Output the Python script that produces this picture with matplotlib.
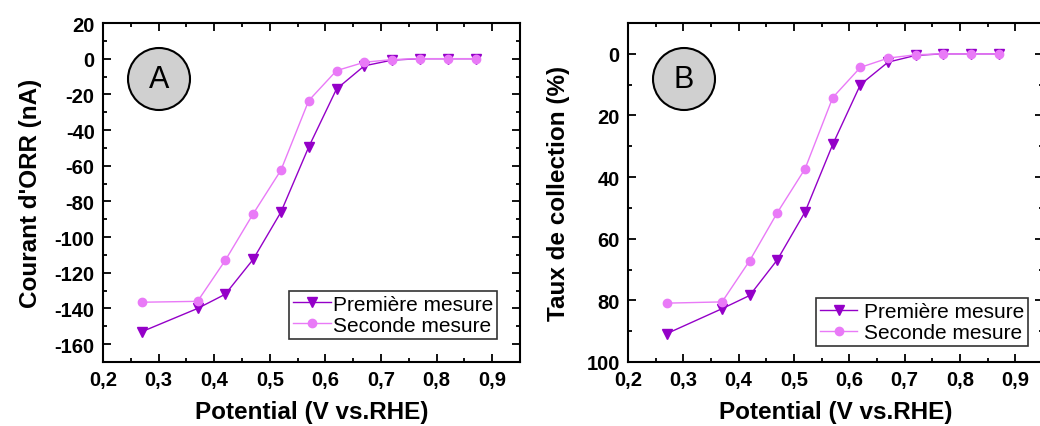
# ORR current and collection rate, two measurements
import numpy as np
import matplotlib.pyplot as plt
from matplotlib.patches import Ellipse
from matplotlib.ticker import MultipleLocator, FuncFormatter

potential = [0.27, 0.37, 0.42, 0.47, 0.52, 0.57, 0.62, 0.67, 0.72, 0.77, 0.82, 0.87]

courant_1 = [-153, -140, -132, -112.5, -86, -49.5, -17, -4, -0.8, 0, 0, 0]
courant_2 = [-136.5, -136, -113, -87, -62.5, -23.5, -6.7, -2, -0.5, 0, 0, 0]

taux_1 = [90.8, 82.7, 78.4, 66.8, 51.3, 29.4, 10, 2.7, 0.5, 0, 0, 0]
taux_2 = [80.9, 80.5, 67.1, 51.5, 37.3, 14.2, 4.4, 1.4, 0.3, 0, 0, 0]

labels = ['Première mesure', 'Seconde mesure']
c1 = '#9400c8'
c2 = '#e97af7'

plt.rcParams['font.family'] = ['Liberation Sans', 'DejaVu Sans']
plt.rcParams['axes.unicode_minus'] = False

fig = plt.figure(figsize=(10.4, 4.27), dpi=100)

W, H = 1040, 427


def comma(v, pos):
    s = '%g' % round(v, 3)
    return s.replace('.', ',')


def setup(ax, letter, cx, cy):
    ax.set_xlim(0.2, 0.95)
    ax.xaxis.set_major_locator(MultipleLocator(0.1))
    ax.xaxis.set_minor_locator(MultipleLocator(0.05))
    ax.yaxis.set_major_locator(MultipleLocator(20))
    ax.yaxis.set_minor_locator(MultipleLocator(10))
    ax.xaxis.set_major_formatter(FuncFormatter(comma))
    ax.tick_params(which='both', direction='in', top=True, right=True, width=1.3)
    ax.tick_params(which='major', length=6, labelsize=14.5, pad=6)
    ax.tick_params(which='minor', length=3)
    for lab in ax.get_xticklabels() + ax.get_yticklabels():
        lab.set_fontweight('bold')
    for sp in ax.spines.values():
        sp.set_linewidth(1.5)
    ax.set_xlabel('Potential (V vs.RHE)', fontsize=17.5, fontweight='bold', labelpad=8)
    e = Ellipse((cx / W, 1 - cy / H), 62 / W, 62 / H, transform=fig.transFigure,
                facecolor='#d0d0d0', edgecolor='black', lw=1.5, zorder=5)
    fig.patches.append(e)
    fig.text(cx / W, 1 - cy / H, letter, fontsize=22, ha='center', va='center', zorder=6)


# panel A
axA = fig.add_axes([103 / W, 1 - 363 / H, 417 / W, 339 / H])
axA.plot(potential, courant_1, color=c1, lw=1, marker='v', ms=7, label=labels[0])
axA.plot(potential, courant_2, color=c2, lw=1, marker='o', ms=6, label=labels[1])
axA.set_ylim(-170, 20)
axA.set_ylabel("Courant d'ORR (nA)", fontsize=17.5, fontweight='bold', labelpad=9)
setup(axA, 'A', 159, 80)
legA = axA.legend(loc='lower right', bbox_to_anchor=(0.945, 0.068), fontsize=15,
                  frameon=True, fancybox=False, edgecolor='black', borderpad=0.2,
                  handlelength=1.8, handletextpad=0.1, labelspacing=0.1, borderaxespad=0)
legA.get_frame().set_linewidth(1.2)

# panel B
axB = fig.add_axes([628 / W, 1 - 363 / H, 415 / W, 339 / H])
axB.plot(potential, taux_1, color=c1, lw=1, marker='v', ms=7, label=labels[0])
axB.plot(potential, taux_2, color=c2, lw=1, marker='o', ms=6, label=labels[1])
axB.set_ylim(100, -10)
axB.set_ylabel('Taux de collection (%)', fontsize=17.5, fontweight='bold', labelpad=12)
setup(axB, 'B', 684, 80)
legB = axB.legend(loc='lower right', bbox_to_anchor=(0.964, 0.047), fontsize=15,
                  frameon=True, fancybox=False, edgecolor='black', borderpad=0.2,
                  handlelength=1.8, handletextpad=0.3, labelspacing=0.1, borderaxespad=0)
legB.get_frame().set_linewidth(1.2)

fig.savefig('out.png', dpi=100)
